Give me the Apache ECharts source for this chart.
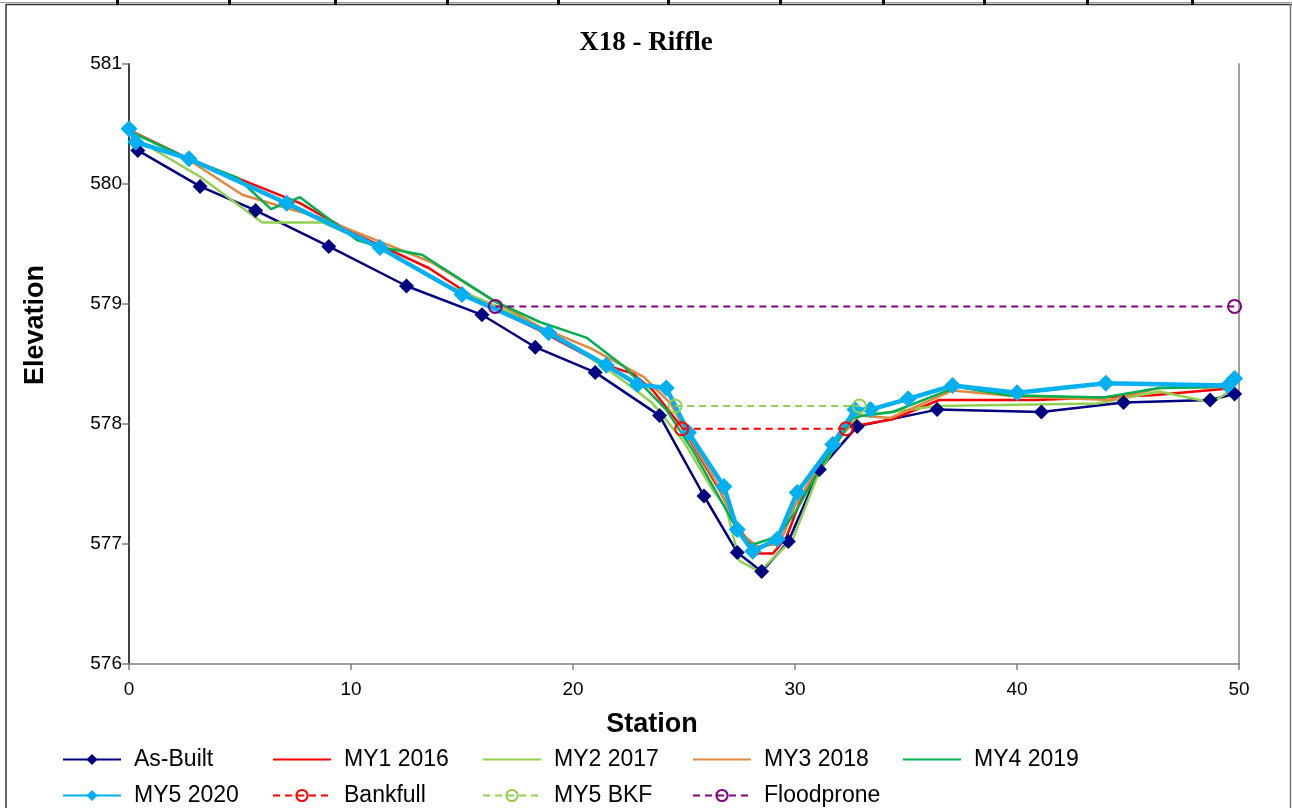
<!DOCTYPE html>
<html>
<head>
<meta charset="utf-8">
<script src="https://cdn.jsdelivr.net/npm/echarts@6/dist/echarts.min.js"></script>
<style>html,body{margin:0;padding:0;background:#fff}#c{width:1292px;height:808px}</style>
</head>
<body>
<div id="c"></div>
<script>
// ---- data: [station, elevation] ----
const asBuilt = [[0.4,580.28],[3.2,579.98],[5.7,579.78],[9.0,579.48],[12.5,579.15],[15.9,578.91],[18.3,578.64],[21.0,578.43],[23.9,578.07],[25.9,577.40],[27.4,576.93],[28.5,576.77],[29.7,577.02],[31.1,577.62],[32.8,577.98],[36.4,578.12],[41.1,578.10],[44.8,578.18],[48.7,578.20],[49.8,578.25]];
const my1 = [[0,580.45],[2.7,580.21],[5.0,580.04],[7.7,579.84],[10.1,579.59],[11.4,579.48],[13.5,579.30],[16.0,579.00],[18.5,578.78],[21.3,578.50],[22.7,578.42],[23.6,578.28],[25.0,577.95],[26.6,577.45],[27.4,577.15],[28.3,576.92],[29.0,576.92],[29.6,577.05],[30.2,577.34],[31.5,577.75],[32.3,577.97],[34.4,578.04],[36.5,578.20],[40.9,578.20],[46.1,578.24],[49.8,578.30]];
const my2 = [[0.2,580.39],[3.2,580.06],[6.0,579.68],[8.7,579.68],[11.2,579.48],[14.0,579.18],[16.6,578.98],[19.0,578.76],[21.6,578.45],[22.7,578.30],[23.6,578.17],[25.0,577.85],[26.3,577.45],[26.9,577.30],[27.5,576.86],[28.4,576.77],[29.9,577.04],[31.0,577.56],[32.7,578.10],[33.1,578.07],[36.4,578.15],[43.6,578.17],[46.4,578.27],[48.8,578.18],[49.8,578.30]];
const my3 = [[0,580.45],[2.7,580.20],[5.1,579.91],[6.9,579.81],[8.6,579.72],[11.3,579.52],[13.6,579.35],[16.5,579.02],[18.6,578.80],[20.8,578.63],[23.2,578.39],[24.4,578.17],[25.2,577.90],[26.5,577.50],[27.5,577.10],[28.3,576.98],[29.3,577.00],[30.0,577.32],[31.5,577.78],[32.9,578.07],[34.3,578.05],[37.1,578.28],[40.1,578.23],[44.2,578.20],[46.4,578.30],[49.6,578.31]];
const my4 = [[0,580.44],[2.7,580.21],[4.9,580.05],[6.4,579.79],[7.7,579.89],[10.3,579.53],[11.4,579.47],[13.2,579.41],[16.5,579.02],[18.5,578.85],[20.6,578.72],[22.3,578.48],[24.2,578.12],[25.4,577.78],[26.4,577.45],[27.3,577.15],[28.0,576.99],[29.2,577.06],[30.0,577.26],[31.1,577.62],[32.6,578.05],[33.1,578.07],[34.4,578.10],[37.3,578.31],[39.6,578.24],[43.9,578.22],[46.4,578.30],[49.8,578.31]];
const my5 = [[0,580.46],[0.3,580.35],[2.7,580.21],[7.1,579.84],[11.3,579.47],[15.0,579.08],[18.9,578.76],[21.5,578.49],[22.9,578.33],[24.2,578.30],[25.2,577.93],[26.8,577.48],[27.4,577.12],[28.1,576.94],[29.2,577.04],[30.1,577.43],[31.7,577.83],[32.7,578.12],[33.4,578.12],[35.1,578.21],[37.1,578.32],[40.0,578.26],[44.0,578.34],[49.5,578.32],[49.8,578.38]];
const bankfull = [[24.9,577.96],[32.3,577.96]];
const my5Bkf = [[24.6,578.15],[32.9,578.15]];
const floodprone = [[16.5,578.98],[49.8,578.98]];
const xTicks = {min:0, max:50, interval:10};
const yTicks = {min:576, max:581, interval:1};
const legendRow1 = ['As-Built','MY1 2016','MY2 2017','MY3 2018','MY4 2019'];
const legendRow2 = ['MY5 2020','Bankfull','MY5 BKF','Floodprone'];
const noMarker = ['MY1 2016','MY2 2017','MY3 2018','MY4 2019'];

const FONT = '"Liberation Sans", Arial, sans-serif';
const chart = echarts.init(document.getElementById('c'));

const legendLefts = [57, 267, 477, 687, 897];
const legends = [];
function mkLegend(n, left, top){
  const l = {data:[n], left, top, itemWidth:58, itemHeight:14, itemGap:0,
    textStyle:{fontFamily:FONT, fontSize:23, color:'#000', padding:[0,0,0,8]}};
  if (noMarker.includes(n)) l.itemStyle = {opacity:0};
  return l;
}
legendRow1.forEach((n,i)=>legends.push(mkLegend(n, legendLefts[i], 743)));
legendRow2.forEach((n,i)=>legends.push(mkLegend(n, legendLefts[i], 779)));

const topTicks = [117,229,335,447,558,668,780,883,984,1087,1192];
const graphics = [
  {type:'line', shape:{x1:0,y1:2.5,x2:1292,y2:2.5}, style:{stroke:'#9a9a9a', lineWidth:1}, silent:true},
  {type:'line', shape:{x1:6,y1:4.5,x2:1292,y2:4.5}, style:{stroke:'#333', lineWidth:1.5}, silent:true},
  {type:'line', shape:{x1:6,y1:4,x2:6,y2:808}, style:{stroke:'#333', lineWidth:1.5}, silent:true},
  {type:'line', shape:{x1:1290.5,y1:4,x2:1290.5,y2:808}, style:{stroke:'#777', lineWidth:1.5}, silent:true}
];
topTicks.forEach(x=>graphics.push({type:'rect', shape:{x:x-1, y:0, width:3, height:5}, style:{fill:'#000'}, silent:true}));

function solid(name, data, color, width, sym, size){
  return {name, type:'line', data, symbol: sym||'none', symbolSize:size||0, showSymbol:!!sym,
    lineStyle:{color, width}, itemStyle:{color}, emphasis:{disabled:true}, animation:false, z:2};
}
function dashed(name, data, color){
  return {name, type:'line', data, symbol:'circle', symbolSize:13, showSymbol:true,
    lineStyle:{color, width:2, type:[7,5]}, itemStyle:{color:'rgba(255,255,255,0)', borderColor:color, borderWidth:2},
    emphasis:{disabled:true}, animation:false, z:4};
}

chart.setOption({
  animation:false,
  backgroundColor:'#fff',
  title:{text:'X18 - Riffle', left:'center', top:25, textStyle:{fontFamily:'"Liberation Serif","Times New Roman",serif', fontWeight:'bold', fontSize:27, color:'#000'}},
  legend: legends,
  graphic: graphics,
  grid:{left:129, right:53, top:64, bottom:144},
  xAxis:{type:'value', min:xTicks.min, max:xTicks.max, interval:xTicks.interval,
    name:'Station', nameLocation:'middle', nameGap:47, nameTextStyle:{fontFamily:FONT, fontSize:27, fontWeight:'bold', color:'#000', padding:[0,64,0,0]},
    axisLine:{show:true, onZero:false, lineStyle:{color:'#808080', width:1.5}},
    axisTick:{show:true, length:6, lineStyle:{color:'#808080', width:1.5}},
    axisLabel:{fontFamily:FONT, fontSize:19, color:'#000', margin:16},
    splitLine:{show:false}},
  yAxis:[{type:'value', min:yTicks.min, max:yTicks.max, interval:yTicks.interval,
    name:'Elevation', nameLocation:'middle', nameGap:80, nameTextStyle:{fontFamily:FONT, fontSize:27, fontWeight:'bold', color:'#000', padding:[0,0,0,78]},
    axisLine:{show:true, onZero:false, lineStyle:{color:'#404040', width:2}},
    axisTick:{show:true, length:7, lineStyle:{color:'#808080', width:1.5}},
    axisLabel:{fontFamily:FONT, fontSize:19, color:'#000', margin:7},
    splitLine:{show:false}},
   {type:'value', position:'right', min:yTicks.min, max:yTicks.max, interval:yTicks.interval,
    axisLine:{show:true, onZero:false, lineStyle:{color:'#a0a0a0', width:2}},
    axisTick:{show:false}, axisLabel:{show:false}, splitLine:{show:false}}],
  series:[
    solid('As-Built', asBuilt, '#000080', 2.5, 'diamond', 15),
    solid('MY1 2016', my1, '#FF0000', 2.5),
    solid('MY2 2017', my2, '#92D050', 2.5),
    solid('MY3 2018', my3, '#E0883E', 2.5),
    solid('MY4 2019', my4, '#00B050', 2.5),
    Object.assign(solid('MY5 2020', my5, '#00B0F0', 4.5, 'diamond', 17), {z:3}),
    dashed('Bankfull', bankfull, '#FF0000'),
    dashed('MY5 BKF', my5Bkf, '#92D050'),
    dashed('Floodprone', floodprone, '#800080')
  ]
});
</script>
</body>
</html>
